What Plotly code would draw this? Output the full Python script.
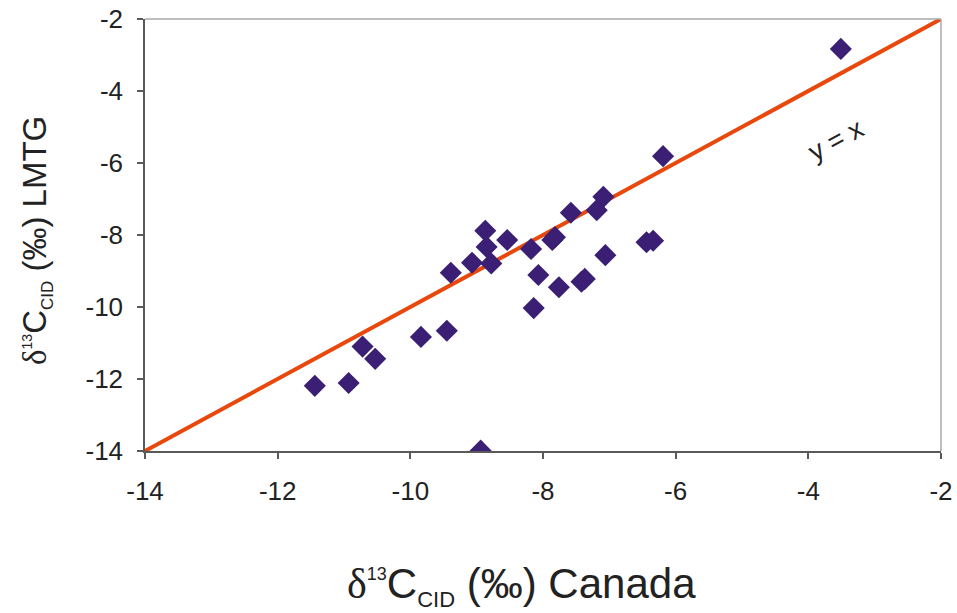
import plotly.graph_objects as go

# Data
canada = [-11.44, -10.93, -10.72, -10.53, -9.84, -9.45, -9.39, -9.07, -8.87, -8.85,
          -8.78, -8.54, -8.94, -8.18, -8.07, -8.14, -7.86, -7.82, -7.76, -7.58,
          -7.37, -7.42, -7.19, -7.09, -7.06, -6.44, -6.34, -3.51, -6.19]
lmtg = [-12.19, -12.11, -11.10, -11.44, -10.83, -10.66, -9.05, -8.77, -7.88, -8.33,
        -8.79, -8.14, -13.99, -8.39, -9.11, -10.03, -8.14, -8.06, -9.45, -7.38,
        -9.22, -9.30, -7.31, -6.94, -8.56, -8.20, -8.16, -2.83, -5.81]

line_x = [-14, -2]
line_y = [-14, -2]

tick_vals = [-14, -12, -10, -8, -6, -4, -2]
tick_text = ["-14", "-12", "-10", "-8", "-6", "-4", "-2"]

FONT = "Liberation Sans, Arial"
TXT = "#222222"

fig = go.Figure()
fig.add_trace(go.Scatter(x=line_x, y=line_y, mode="lines",
                         line=dict(color="#E8480C", width=4), showlegend=False,
                         hoverinfo="skip"))
fig.add_trace(go.Scatter(x=canada, y=lmtg, mode="markers",
                         marker=dict(symbol="diamond", size=17, color="#3A1F74",
                                     line=dict(width=0)),
                         showlegend=False))

axis_common = dict(
    tickvals=tick_vals, ticktext=tick_text, range=[-14, -2], automargin=False,
    ticklabeloverflow="allow",
    showgrid=False, zeroline=False, showline=True, linecolor="#5a5a5a",
    linewidth=1.5, ticks="outside", tickcolor="#5a5a5a", tickwidth=1.5,
    ticklen=6, tickfont=dict(family=FONT, size=26, color=TXT),
)

def title_text(label, sup_size, sub_size):
    return ("<span style=\"font-family:'Liberation Serif'\">δ</span>"
            f"<sup><span style=\"font-size:{sup_size}px\">13</span></sup>C"
            f"<sub><span style=\"font-size:{sub_size}px\">CID</span></sub> (‰) " + label)

# body margin is removed below, so the figure fills the window from (0, 0)
W, H = 957, 613
L, R, T, B = 145, 16, 19, 162
pw = W - L - R
ph = H - T - B

def px_x(page_x):
    return (page_x - L) / pw

def px_y(page_y):
    return (H - B - page_y) / ph

fig.update_layout(
    width=W, height=H,
    margin=dict(l=L, r=R, t=T, b=B),
    plot_bgcolor="white", paper_bgcolor="white",
    xaxis=dict(**axis_common, ticklabelstandoff=10),
    yaxis=dict(**axis_common, ticklabelstandoff=9),
    shapes=[
        dict(type="line", xref="paper", yref="paper", x0=0, x1=1, y0=1, y1=1,
             line=dict(color="#a8a8a8", width=1.5)),
        dict(type="line", xref="paper", yref="paper", x0=1, x1=1, y0=0, y1=1,
             line=dict(color="#a8a8a8", width=1.5)),
    ],
    annotations=[
        dict(text="y = x", x=-3.58, y=-5.36, xref="x", yref="y", showarrow=False,
             textangle=-28.5, font=dict(family=FONT, size=27, color=TXT)),
        dict(text=title_text("Canada", 18, 22),
             x=px_x(521), y=px_y(586), xref="paper", yref="paper",
             xanchor="center", yanchor="middle", showarrow=False,
             font=dict(family=FONT, size=42, color=TXT)),
        dict(text=title_text("LMTG", 14, 17),
             x=px_x(37), y=px_y(241), xref="paper", yref="paper",
             xanchor="center", yanchor="middle", showarrow=False, textangle=-90,
             font=dict(family=FONT, size=33, color=TXT)),
    ],
)

fig.write_html(
    "out.html",
    config={"displayModeBar": False},
    post_script="document.body.style.margin='0';document.body.style.overflow='hidden';",
)
